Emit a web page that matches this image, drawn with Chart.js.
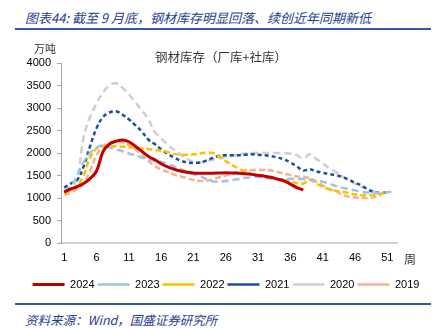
<!DOCTYPE html>
<html><head><meta charset="utf-8">
<script src="https://cdn.jsdelivr.net/npm/chart.js@4"></script>
<style>
html,body{margin:0;padding:0;background:#fff;}
#wrap{position:relative;width:436px;height:328px;background:#fff;overflow:hidden;}
.t{position:absolute;white-space:nowrap;line-height:1;}
.hdr{left:25px;top:8px;font:italic 13px "Noto Sans CJK SC";color:#24418f;}
.src{left:25px;top:310px;font:italic 12.5px "Noto Sans CJK SC";color:#24418f;}
.rule{position:absolute;left:15px;width:416px;background:#2f5aa5;}
.sub{left:0;width:442px;text-align:center;top:47px;font:12.5px "Noto Sans CJK SC";color:#333;}
.unit{left:34px;top:40px;font:11px "Noto Sans CJK SC";color:#333;}
.wk{left:404px;top:250px;font:12px "Noto Sans CJK SC";color:#333;}
canvas{position:absolute;left:0;top:0;}
</style></head>
<body><div id="wrap">
<div class="t hdr">图表44: 截至 9 月底，钢材库存明显回落、续创近年同期新低</div>
<div class="rule" style="top:28px;height:2px;"></div>
<canvas id="c" width="436" height="300"></canvas>
<div class="t sub">钢材库存（厂库+社库）</div>
<div class="t unit">万吨</div>
<div class="t wk">周</div>
<div class="rule" style="top:303px;height:1.5px;"></div>
<div class="t src">资料来源：Wind，国盛证券研究所</div>
</div>
<script>
const weeks = Array.from({length: 52}, (_, i) => String(i + 1));
const yTicks = [0, 500, 1000, 1500, 2000, 2500, 3000, 3500, 4000];
const seriesNames = ['2024', '2023', '2022', '2021', '2020', '2019'];

const s2024 = [1130,1200,1250,1320,1430,1600,2030,2200,2260,2290,2250,2150,2040,1930,1850,1760,1690,1640,1600,1570,1555,1550,1550,1550,1555,1560,1555,1550,1540,1525,1505,1485,1460,1420,1380,1310,1230,1180];
const s2023 = [1150,1250,1500,1800,2000,2120,2170,2120,2080,2040,1990,1950,1900,1860,1830,1800,1760,1700,1640,1580,1530,1490,1420,1370,1360,1380,1400,1420,1450,1460,1470,1450,1430,1420,1420,1430,1420,1420,1410,1390,1360,1320,1270,1230,1200,1170,1140,1120,1110,1120,1130,1150];
const s2022 = [1100,1170,1280,1500,1900,2100,2150,2150,2150,2140,2130,2110,2100,2090,2070,2050,2020,1980,1960,1960,1970,1990,2010,2000,1920,1820,1730,1650,1580,1540,1490,1460,1440,1420,1400,1370,1330,1320,1400,1320,1250,1190,1160,1140,1110,1080,1060,1060,1070,1090,1130];
const s2021 = [1230,1320,1400,1700,2150,2550,2800,2900,2930,2850,2750,2620,2480,2300,2200,2080,1980,1900,1830,1790,1780,1790,1830,1890,1940,1950,1950,1950,1960,1970,1960,1950,1930,1900,1860,1790,1700,1610,1640,1590,1560,1530,1510,1470,1410,1340,1280,1190,1130,1110,1130];
const s2020 = [1150,1250,1450,2350,2800,3100,3350,3500,3550,3450,3300,3130,2950,2750,2470,2330,2180,2070,1970,1870,1800,1790,1810,1850,1880,1910,1940,1970,1990,2000,2000,2000,2000,2000,1995,1985,1950,1880,1970,1870,1770,1660,1580,1480,1400,1320,1250,1200,1140,1110,1110];
const s2019 = [1070,1120,1200,1330,1600,1950,2150,2220,2250,2240,2180,2080,1960,1830,1710,1630,1580,1520,1480,1440,1400,1380,1380,1420,1460,1500,1540,1580,1610,1620,1620,1620,1610,1580,1540,1510,1480,1470,1440,1360,1280,1200,1150,1080,1030,1010,1000,1000,1020,1060];

const colors = ['#c00000', '#9dc3e6', '#ffc000', '#1a4f9e', '#d0cece', '#f6b28c'];
const dashes = [[], [7, 4], [6, 3], [4, 3], [7, 4], [6, 3]];
const widths = [3, 2.5, 2.5, 2.5, 2.5, 2.5];
const values = [s2024, s2023, s2022, s2021, s2020, s2019];

const datasets = seriesNames.map((n, i) => ({
  label: n,
  data: values[i],
  borderColor: colors[i],
  backgroundColor: colors[i],
  borderWidth: widths[i],
  borderDash: dashes[i],
  borderCapStyle: 'butt',
  pointRadius: 0,
  pointHoverRadius: 0,
  tension: 0.4,
  fill: false,
  yAxisID: 'y'
}));

const shiftLegend = {
  id: 'shiftLegend',
  afterLayout(chart) {
    const lg = chart.legend;
    if (lg) { lg.left += 8; lg.right += 8; }
  }
};

new Chart(document.getElementById('c'), {
  type: 'line',
  data: { labels: weeks, datasets },
  plugins: [shiftLegend],
  options: {
    responsive: false,
    animation: false,
    devicePixelRatio: 1,
    layout: { padding: { top: 63, left: 0, right: 0, bottom: 0 } },
    plugins: {
      title: { display: false },
      tooltip: { enabled: false },
      legend: {
        position: 'bottom',
        labels: {
          usePointStyle: true,
          pointStyle: 'line',
          pointStyleWidth: 32,
          boxHeight: 11,
          padding: 3,
          color: '#000',
          font: { family: 'Liberation Sans', size: 11 }
        }
      }
    },
    scales: {
      x: {
        type: 'category',
        offset: true,
        grid: { display: true, drawOnChartArea: false, drawTicks: false },
        border: { display: true, color: '#d0d0d0', width: 2 },
        ticks: {
          autoSkip: false,
          maxRotation: 0,
          minRotation: 0,
          padding: 8,
          color: '#000',
          font: { family: 'Liberation Sans', size: 11 },
          callback: function(v, i) { return i % 5 === 0 ? weeks[i] : ''; }
        },
        afterFit(scale) { scale.height = 33; }
      },
      y: {
        min: yTicks[0],
        max: yTicks[yTicks.length - 1],
        afterBuildTicks(scale) { scale.ticks = yTicks.map(v => ({ value: v })); },
        grid: { drawOnChartArea: false, drawTicks: true, tickLength: 4, color: '#a6a6a6' },
        border: { display: true, color: '#a6a6a6', width: 1 },
        ticks: {
          padding: 6,
          color: '#000',
          font: { family: 'Liberation Sans', size: 11 },
          callback: function(v) { return String(v); }
        },
        afterFit(scale) { scale.width = 61; }
      },
      yRight: {
        type: 'linear',
        position: 'right',
        display: true,
        grid: { display: false, drawTicks: false },
        border: { display: false },
        ticks: { display: false },
        afterFit(scale) { scale.width = 39; }
      }
    }
  }
});
</script>
</body></html>
